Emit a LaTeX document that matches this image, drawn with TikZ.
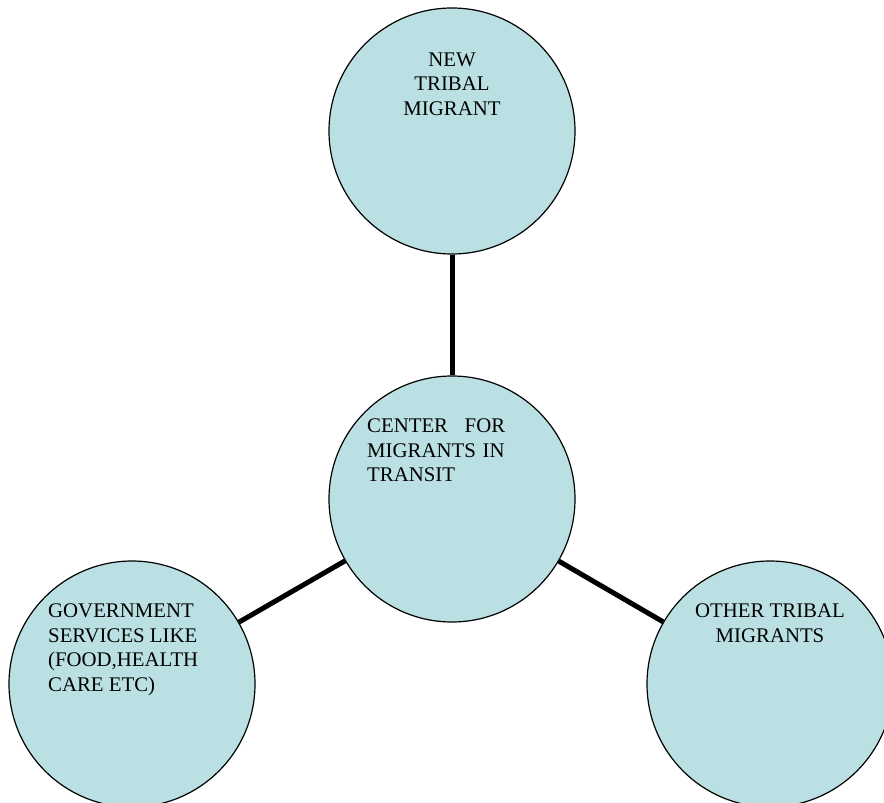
\documentclass[tikz,border=0pt]{standalone}
\usepackage{fontspec}
\setmainfont{Liberation Serif}
\usepackage{tikz}
\usetikzlibrary{positioning}
\definecolor{paleblue}{RGB}{187,224,227}

\begin{document}
\begin{tikzpicture}[x=1pt, y=-1pt, main node/.style={circle,draw,fill=paleblue,minimum size=246pt,inner sep=0pt,line width=1.2pt},text node/.style={inner sep=0pt,font=\fontsize{20.8}{24.6}\selectfont}]
\useasboundingbox (0,0) rectangle (884,803);
\clip (0,0) rectangle (884,803);
\begin{scope}[every node/.style={main node}]
\node (newm) at (452,131) {};
\node (center) at (452,499) {};
\node (gov) at (132,684) {};
\node (other) at (770,684) {};
\end{scope}
\begin{scope}[every node/.style={text node}]
\node[anchor=north,align=center] (newtext) at (452,52.5) {NEW\\TRIBAL\\MIGRANT};
\node[anchor=north west,align=left,text width=138pt] (centertext) at (367,418.5) {CENTER \hfill FOR\\MIGRANTS IN\\TRANSIT};
\node[anchor=north west,align=left] (govtext) at (48,603.5) {GOVERNMENT\\SERVICES LIKE\\(FOOD,HEALTH\\CARE ETC)};
\node[anchor=north,align=center] (othertext) at (770,603.5) {OTHER TRIBAL\\MIGRANTS};
\end{scope}
\begin{scope}[every edge/.style={draw=black,line width=5pt}]
\draw (newm) edge (center);
\draw (center) edge (gov);
\draw (center) edge (other);
\end{scope}
\end{tikzpicture}
\end{document}
